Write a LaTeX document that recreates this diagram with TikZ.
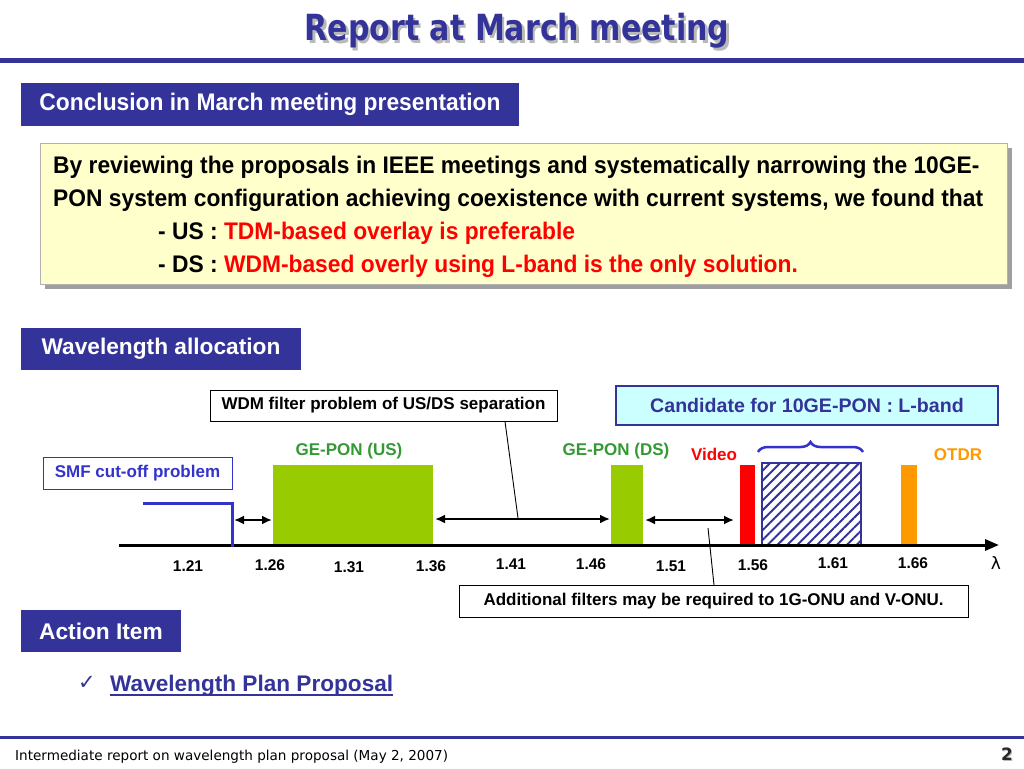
\documentclass[tikz,border=0pt]{standalone}
\usepackage{fontspec}
\setmainfont{Liberation Sans}
\newfontfamily\narrowf[FakeStretch=0.95]{Liberation Sans}
\newfontfamily\titlef[FakeStretch=0.835]{DejaVu Sans}
\newfontfamily\footf[FakeStretch=0.99]{DejaVu Sans}
\newfontfamily\symf{DejaVu Sans}
\usetikzlibrary{arrows.meta,patterns.meta,decorations.pathreplacing}
\definecolor{navy}{HTML}{333399}
\definecolor{lyellow}{HTML}{FFFFCC}
\definecolor{lcyan}{HTML}{CCFFFF}
\definecolor{pgreen}{HTML}{99CC00}
\definecolor{tgreen}{HTML}{339933}
\definecolor{sblue}{HTML}{3333CC}
\definecolor{orng}{HTML}{FF9900}
\definecolor{rred}{HTML}{FF0000}
\tikzset{
  fsz/.style={font=\fontsize{#1}{#1}\selectfont\bfseries},
  hdr/.style={fill=navy, text=white, inner sep=0pt, anchor=center},
  lbox/.style={draw=black, line width=0.8pt, fill=white, inner sep=0pt, anchor=center, fsz=17},
  tick/.style={fsz=15.5, anchor=center, inner sep=0pt},
  dbl/.style={line width=2.5pt, {Latex[length=10pt,width=9pt]}-{Latex[length=10pt,width=9pt]}},
  lead/.style={line width=0.9pt, black},
  body/.style={anchor=base west, inner sep=0pt, font=\narrowf\bfseries\fontsize{24}{24}\selectfont}
}
\begin{document}
\begin{tikzpicture}[x=1pt,y=-1pt]
\useasboundingbox (0,0) rectangle (1024,768);
% title
\node[text=gray!55, font=\titlef\bfseries\fontsize{36}{36}\selectfont] (titlesh) at (519.5,33.5) {Report at March meeting};
\node[text=navy, font=\titlef\bfseries\fontsize{36}{36}\selectfont] (title) at (517,31) {Report at March meeting};
\fill[navy] (0,58) rectangle (1024,63);
% conclusion header
\node[hdr, minimum width=498pt, minimum height=43pt, font=\narrowf\bfseries\fontsize{24}{24}\selectfont] (concl) at (270,104.5) {Conclusion in March meeting presentation};
% yellow box
\fill[gray!75] (45,148) rectangle (1012,289);
\draw[fill=lyellow, draw=gray!60, line width=0.8pt] (40,143) rectangle (1007,284);
\node[body] (l1) at (53,173) {By reviewing the proposals in IEEE meetings and systematically narrowing the 10GE-};
\node[body] (l2) at (53,206) {PON system configuration achieving coexistence with current systems, we found that};
\node[body] (l3) at (158,239) {- US : \textcolor{rred}{TDM-based overlay is preferable}};
\node[body] (l4) at (158,272) {- DS : \textcolor{rred}{WDM-based overly using L-band is the only solution.}};
% wavelength allocation header
\node[hdr, minimum width=280pt, minimum height=42pt, fsz=22.7] (walloc) at (161,349) {Wavelength allocation};
% label boxes
\node[lbox, minimum width=347pt, minimum height=31pt] (wdm) at (383.5,405.5) {WDM filter problem of US/DS separation};
\node[draw=navy, line width=2.5pt, fill=lcyan, text=navy, inner sep=0pt, minimum width=382pt, minimum height=39pt, fsz=19.6] (cand) at (807,405.5) {Candidate for 10GE-PON : L-band};
\node[draw=sblue, line width=1pt, fill=white, text=sblue, inner sep=0pt, minimum width=189pt, minimum height=32pt, fsz=17] (smf) at (137.5,473) {SMF cut-off problem};
\node[lbox, minimum width=509pt, minimum height=32pt] (addf) at (713.5,601) {Additional filters may be required to 1G-ONU and V-ONU.};
% bars
\fill[pgreen] (273,465) rectangle (433,545);
\fill[pgreen] (611,465) rectangle (643,545);
\fill[rred] (740,465) rectangle (755,545);
\fill[orng] (901,465) rectangle (917,545);
\draw[navy, line width=2.5pt, pattern={Lines[angle=45,distance=7pt,line width=2pt]}, pattern color=navy] (762,463) rectangle (861,545);
\draw[sblue, line width=2.5pt, decorate, decoration={brace, amplitude=10pt}] (758,452) -- (863,452);
% bar labels
\node[fsz=17, text=tgreen, inner sep=0pt] (usl) at (349,451) {GE-PON (US)};
\node[fsz=17, text=tgreen, inner sep=0pt] (dsl) at (616,451) {GE-PON (DS)};
\node[fsz=17, text=rred, inner sep=0pt] (vidl) at (714,454) {Video};
\node[fsz=17, text=orng, inner sep=0pt] (otdrl) at (958,455) {OTDR};
% axis
\coordinate (ax0) at (119,545);
\coordinate (ax1) at (999,545);
\draw[line width=3pt, -{Triangle[length=14pt,width=11pt]}] (ax0) -- (ax1);
% cut-off line
\coordinate (co0) at (143,503);
\coordinate (co1) at (232,546.5);
\draw[sblue, line width=3pt] (co0) -| (co1);
% arrows
\coordinate (a1) at (234,520); \coordinate (a2) at (272,520);
\coordinate (b1) at (435,519); \coordinate (b2) at (610,519);
\coordinate (c1) at (645,520); \coordinate (c2) at (734,520);
\draw[dbl] (a1) -- (a2);
\draw[dbl] (b1) -- (b2);
\draw[dbl] (c1) -- (c2);
% leader lines
\coordinate (wdmp) at (505,421.5);
\coordinate (wdmt) at (518,518);
\draw[lead] (wdmp) -- (wdmt);
\coordinate (addp) at (714,585);
\coordinate (addt) at (708,528);
\draw[lead] (addt) -- (addp);
% ticks
\node[tick] (t1) at (188,566) {1.21};
\node[tick] (t2) at (270,565) {1.26};
\node[tick] (t3) at (349,567) {1.31};
\node[tick] (t4) at (431,566) {1.36};
\node[tick] (t5) at (511,564) {1.41};
\node[tick] (t6) at (591,564) {1.46};
\node[tick] (t7) at (671,566) {1.51};
\node[tick] (t8) at (753,565) {1.56};
\node[tick] (t9) at (833,563) {1.61};
\node[tick] (t10) at (913,563) {1.66};
\node[inner sep=0pt, font=\symf\fontsize{17}{17}\selectfont] (lam) at (996,563) {λ};
% action item
\node[hdr, minimum width=160pt, minimum height=42pt, fsz=22.7] (action) at (101,631) {Action Item};
\node[inner sep=0pt, text=navy, font=\symf\fontsize{21}{21}\selectfont] (chk) at (87,683) {✓};
\node[inner sep=0pt, anchor=base west, text=navy, fsz=22.6] (plan) at (110,691) {Wavelength Plan Proposal};
\draw[navy, line width=1.3pt] ([yshift=-4pt]plan.base west) -- ([yshift=-4pt]plan.base east);
% footer
\fill[navy] (0,736) rectangle (1024,738.5);
\node[inner sep=0pt, anchor=base west, font=\footf\fontsize{13.7}{14}\selectfont] (foot) at (15,760) {Intermediate report on wavelength plan proposal (May 2, 2007)};
\node[inner sep=0pt, text=gray!55, font=\footf\bfseries\fontsize{17}{17}\selectfont] (pgsh) at (1008,755) {2};
\node[inner sep=0pt, text=black!85, font=\footf\bfseries\fontsize{17}{17}\selectfont] (pg) at (1007,754) {2};
\end{tikzpicture}
\end{document}
